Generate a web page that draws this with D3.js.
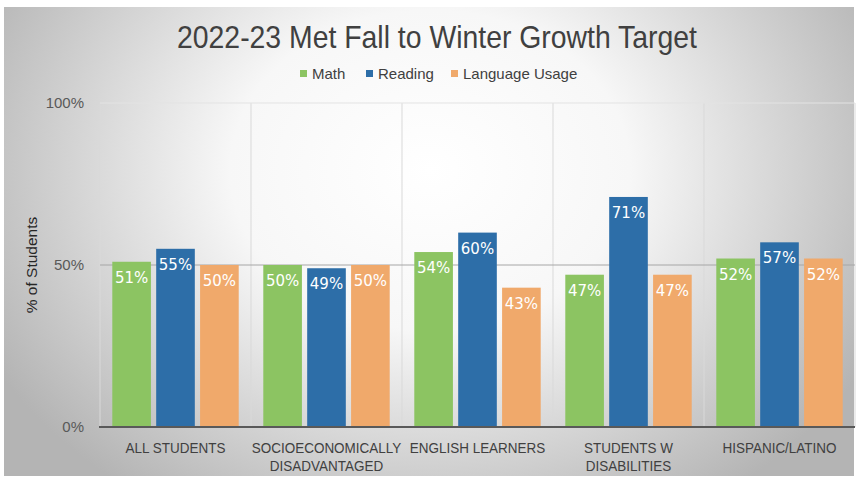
<!DOCTYPE html>
<html><head><meta charset="utf-8">
<script src="https://cdn.jsdelivr.net/npm/d3@7"></script>
<style>body{margin:0;background:#fff}svg{display:block}</style>
</head><body>
<script>
const categories = [["ALL STUDENTS"],["SOCIOECONOMICALLY","DISADVANTAGED"],["ENGLISH LEARNERS"],["STUDENTS W","DISABILITIES"],["HISPANIC/LATINO"]];
const seriesNames = ["Math","Reading","Language Usage"];
const math = [51,50,54,47,52];
const reading = [55,49,60,71,57];
const language = [50,50,43,47,52];
const yTicks = [0,50,100];
const colors = ["#8cc462","#2d6ea8","#f0a96b"];
const series = [math, reading, language];

const W=856,H=479;
const svg=d3.select("body").append("svg").attr("width",W).attr("height",H);
const defs=svg.append("defs");
const rg=defs.append("radialGradient").attr("id","bg").attr("gradientUnits","userSpaceOnUse")
  .attr("cx",430).attr("cy",170).attr("r",500).attr("gradientTransform","translate(430,170) scale(1,0.8) translate(-430,-170)");
rg.append("stop").attr("offset","0%").attr("stop-color","#ffffff");
rg.append("stop").attr("offset","40%").attr("stop-color","#f7f7f7");
rg.append("stop").attr("offset","100%").attr("stop-color","#b4b4b4");
svg.append("rect").attr("x",4).attr("y",7).attr("width",850).attr("height",469).attr("fill","url(#bg)");

const m={l:100,r:855,t:103,b:427};
const x=d3.scaleBand().domain(d3.range(categories.length)).range([m.l,m.r]).paddingInner(0).paddingOuter(0);
const x1=d3.scaleBand().domain(d3.range(3)).range([0,x.bandwidth()]).paddingOuter(0.28).paddingInner(0.12);
const y=d3.scaleLinear().domain([0,100]).range([m.b,m.t]);

// vertical category gridlines
const vb=d3.range(categories.length+1).map(i=> i<categories.length? x(i): m.r);
svg.append("g").selectAll("line").data(vb).join("line")
  .attr("x1",d=>d).attr("x2",d=>d).attr("y1",m.t).attr("y2",m.b)
  .attr("stroke","#d9d9d9").attr("stroke-width",1);
// horizontal gridlines
svg.append("g").selectAll("line").data(yTicks.filter(d=>d>0)).join("line")
  .attr("x1",m.l).attr("x2",m.r).attr("y1",d=>y(d)).attr("y2",d=>y(d))
  .attr("stroke",d=>d===100?"#e3e3e3":"#a6a6a6").attr("stroke-width",1);

// bars
const g=svg.append("g");
series.forEach((s,si)=>{
  g.append("g").selectAll("rect").data(s).join("rect")
    .attr("x",(d,i)=>x(i)+x1(si)).attr("width",x1.bandwidth())
    .attr("y",d=>y(d)).attr("height",d=>y(0)-y(d)).attr("fill",colors[si]);
  g.append("g").selectAll("text").data(s).join("text")
    .attr("x",(d,i)=>x(i)+x1(si)+x1.bandwidth()/2).attr("y",d=>y(d)+21)
    .attr("text-anchor","middle").attr("fill","#ffffff")
    .attr("font-family","DejaVu Sans").attr("font-size",15).text(d=>d+"%");
});

// x axis line
svg.append("line").attr("x1",m.l-1).attr("x2",m.r).attr("y1",m.b).attr("y2",m.b)
  .attr("stroke","#595959").attr("stroke-width",2);

// y tick labels
const yAxis=d3.axisLeft(y).tickValues(yTicks).tickFormat(d=>d+"%").tickSize(0).tickPadding(16);
const ya=svg.append("g").attr("transform",`translate(${m.l},0)`).call(yAxis);
ya.select(".domain").remove();
ya.selectAll("text").attr("font-family","Liberation Sans").attr("font-size",15).attr("fill","#595959");

// x labels (slightly condensed)
const xl=svg.append("g");
categories.forEach((lines,i)=>{
  const cx=x(i)+x.bandwidth()/2;
  const t=xl.append("text").attr("text-anchor","middle").attr("fill","#404040")
    .attr("font-family","Liberation Sans").attr("font-size",14.5)
    .attr("transform",`translate(${cx},0) scale(0.93,1)`);
  lines.forEach((l,j)=>t.append("tspan").attr("x",0).attr("y",453+j*18).text(l));
});

// y title
svg.append("text").attr("transform","translate(37,265) rotate(-90)").attr("text-anchor","middle")
  .attr("font-family","Liberation Sans").attr("font-size",15.5).attr("fill","#262626").text("% of Students");

// title (condensed)
svg.append("text").attr("x",437).attr("y",48).attr("text-anchor","middle")
  .attr("font-family","Liberation Sans").attr("font-size",32).attr("fill","#404040")
  .attr("textLength",520).attr("lengthAdjust","spacingAndGlyphs")
  .text("2022-23 Met Fall to Winter Growth Target");

// legend
const legX=[300,366,451];
const lg=svg.append("g");
seriesNames.forEach((n,i)=>{
  lg.append("rect").attr("x",legX[i]).attr("y",70).attr("width",7).attr("height",7).attr("fill",colors[i]);
  lg.append("text").attr("x",legX[i]+12).attr("y",79).attr("font-family","Liberation Sans")
    .attr("font-size",15).attr("fill","#404040").text(n);
});
</script>
</body></html>
